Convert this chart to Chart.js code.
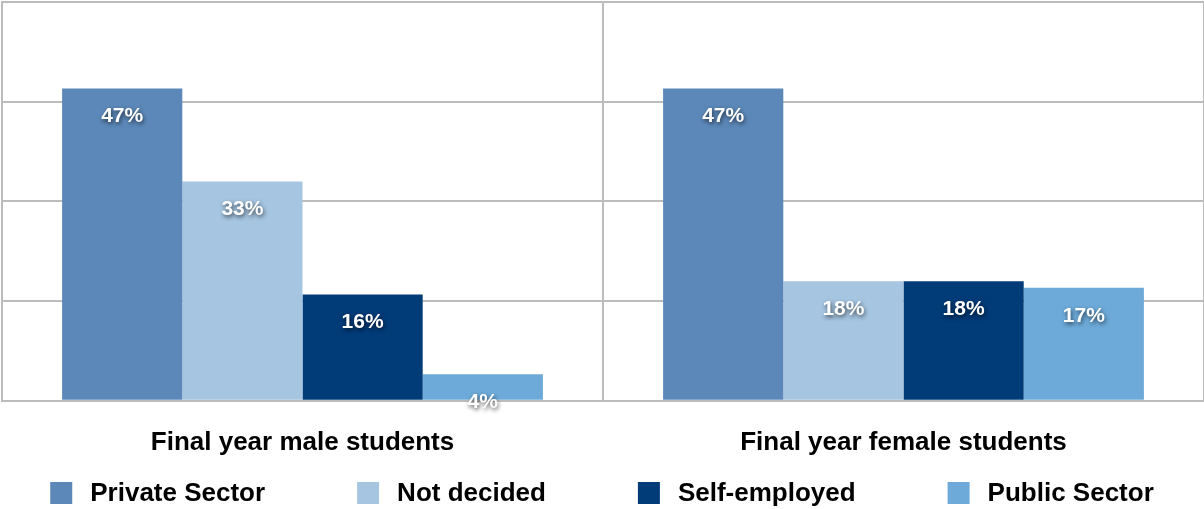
<!DOCTYPE html>
<html>
<head>
<meta charset="utf-8">
<script src="https://cdn.jsdelivr.net/npm/chart.js@4.4.0/dist/chart.umd.min.js"></script>
<style>
  html, body { margin: 0; padding: 0; background: #fff; }
  #wrap { width: 1204px; height: 509px; position: relative; }
</style>
</head>
<body>
<div id="wrap"><canvas id="careerChart"></canvas></div>
<script>
const groups = ['Final year male students', 'Final year female students'];
const sectors = ['Private Sector', 'Not decided', 'Self-employed', 'Public Sector'];
const privateSector = [47, 47];
const notDecided = [33, 18];
const selfEmployed = [16, 18];
const publicSector = [4, 17];
const sectorColors = ['#5c88b9', '#a5c5e1', '#013b78', '#6daad9'];
const yTicks = [0, 15, 30, 45, 60];

const fontFamily = '"Liberation Sans", Arial, Helvetica, sans-serif';
const gridColor = '#bcbcbc';

// percentage labels drawn inside each bar, near its top
const barLabels = {
  id: 'barLabels',
  afterDatasetsDraw(chart) {
    const { ctx } = chart;
    ctx.save();
    ctx.font = 'bold 21px ' + fontFamily;
    ctx.fillStyle = '#ffffff';
    ctx.textAlign = 'center';
    ctx.textBaseline = 'middle';
    ctx.shadowColor = 'rgba(0,0,0,0.65)';
    ctx.shadowBlur = 4;
    ctx.shadowOffsetX = 1;
    ctx.shadowOffsetY = 2;
    chart.data.datasets.forEach((ds, i) => {
      chart.getDatasetMeta(i).data.forEach((bar, j) => {
        ctx.fillText(ds.data[j] + '%', bar.x, bar.y + 28);
      });
    });
    ctx.restore();
  }
};

// one-row legend along the bottom edge
const bottomLegend = {
  id: 'bottomLegend',
  afterDraw(chart) {
    const { ctx } = chart;
    const box = 22, textGap = 18, itemGap = 92, cy = 493;
    ctx.save();
    ctx.font = 'bold 26px ' + fontFamily;
    const items = chart.data.datasets.map(ds => ({
      label: ds.label,
      color: ds.backgroundColor,
      w: box + textGap + ctx.measureText(ds.label).width
    }));
    const total = items.reduce((s, it) => s + it.w, 0) + itemGap * (items.length - 1);
    let x = (chart.width - total) / 2;
    ctx.textBaseline = 'middle';
    ctx.textAlign = 'left';
    items.forEach(it => {
      ctx.fillStyle = it.color;
      ctx.fillRect(x, cy - box / 2, box, box);
      ctx.fillStyle = '#000000';
      ctx.fillText(it.label, x + box + textGap, cy + 1);
      x += it.w + itemGap;
    });
    ctx.restore();
  }
};

const seriesValues = [privateSector, notDecided, selfEmployed, publicSector];

new Chart(document.getElementById('careerChart'), {
  type: 'bar',
  data: {
    labels: groups,
    datasets: sectors.map((name, i) => ({
      label: name,
      data: seriesValues[i],
      backgroundColor: sectorColors[i],
      borderWidth: 0,
      categoryPercentage: 0.8,
      barPercentage: 1
    }))
  },
  options: {
    responsive: true,
    maintainAspectRatio: false,
    animation: false,
    layout: { padding: { top: 2, left: 2, right: 0, bottom: 25 } },
    plugins: {
      legend: { display: false },
      tooltip: { enabled: false }
    },
    scales: {
      x: {
        grid: {
          drawTicks: false,
          lineWidth: 2,
          color: c => (c.index === 2 ? 'rgba(0,0,0,0)' : gridColor)
        },
        border: { display: true, color: gridColor, width: 2 },
        ticks: {
          color: '#000000',
          padding: 26,
          font: { family: fontFamily, size: 26, weight: 'bold' }
        }
      },
      y: {
        min: yTicks[0],
        max: yTicks[yTicks.length - 1],
        afterBuildTicks: axis => { axis.ticks = yTicks.map(v => ({ value: v })); },
        grid: { drawTicks: false, lineWidth: 2, color: gridColor },
        border: { display: true, color: gridColor, width: 2 },
        ticks: { display: false }
      }
    }
  },
  plugins: [barLabels, bottomLegend]
});
</script>
</body>
</html>
